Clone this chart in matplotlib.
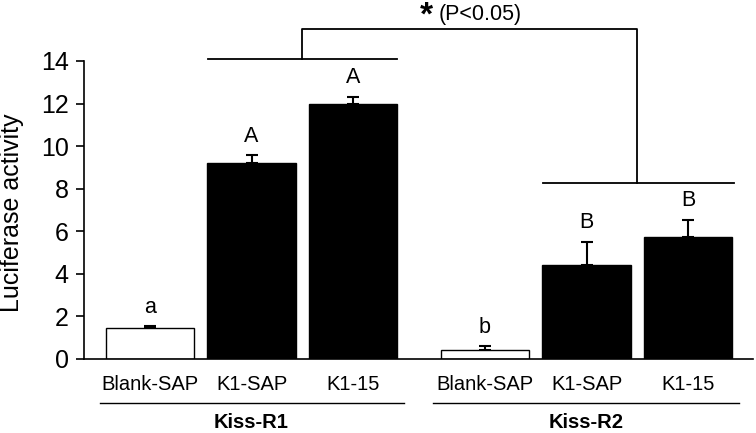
import numpy as np
import matplotlib.pyplot as plt

plt.rcParams['font.family'] = ['Liberation Sans', 'DejaVu Sans']

# data
treatments = ['Blank-SAP', 'K1-SAP', 'K1-15', 'Blank-SAP', 'K1-SAP', 'K1-15']
receptors = ['Kiss-R1', 'Kiss-R2']
activity = [1.45, 9.2, 12.0, 0.42, 4.4, 5.73]
sem = [0.08, 0.38, 0.33, 0.18, 1.1, 0.8]
letters = ['a', 'A', 'A', 'b', 'B', 'B']
bar_colors = ['white', 'black', 'black', 'white', 'black', 'black']

pos = np.array([0, 1, 2, 3.3, 4.3, 5.3])

fig = plt.figure(figsize=(7.56, 4.33), dpi=100)
ax = fig.add_axes([84 / 756, 74 / 433, (753 - 84) / 756, (359 - 61) / 433])

ax.errorbar(pos, activity, yerr=[np.zeros(6), sem], fmt='none', ecolor='black',
            elinewidth=1.5, capsize=4, capthick=1.5, zorder=1)
ax.bar(pos, activity, width=0.87, color=bar_colors, edgecolor='black', linewidth=1, zorder=2)

for x, v, e, t in zip(pos, activity, sem, letters):
    ax.text(x, v + e + 0.4, t, ha='center', va='bottom', fontsize=15.5)

ax.set_xlim(-0.65, 5.94)
ax.set_ylim(0, 14)
ax.set_yticks(range(0, 15, 2))
ax.tick_params(axis='y', labelsize=18, length=6, width=1.2, direction='out', pad=5)
ax.set_xticks([])
ax.spines['top'].set_visible(False)
ax.spines['right'].set_visible(False)
ax.spines['left'].set_linewidth(1.2)
ax.spines['bottom'].set_linewidth(1.2)
ax.set_ylabel('Luciferase activity', fontsize=18)
ax.yaxis.set_label_coords(-0.09, 0.49)

# category labels and group underlines
for x, t in zip(pos, treatments):
    ax.text(x, -1.22, t, ha='center', va='center', fontsize=14.5, clip_on=False)
ax.plot([-0.49, 2.5], [-2.07, -2.07], color='black', lw=1, clip_on=False)
ax.plot([2.79, 5.8], [-2.07, -2.07], color='black', lw=1, clip_on=False)
ax.text(1, -2.96, receptors[0], ha='center', va='center', fontsize=14.5, fontweight='bold')
ax.text(4.3, -2.96, receptors[1], ha='center', va='center', fontsize=14.5, fontweight='bold')

# significance bracket
ax.plot([0.57, 2.43], [14.08, 14.08], color='black', lw=1.3, clip_on=False)
ax.plot([3.87, 5.75], [8.26, 8.26], color='black', lw=1.3, clip_on=False)
ax.plot([1.5, 1.5, 4.8, 4.8], [14.08, 15.49, 15.49, 8.26], color='black', lw=1.3, clip_on=False)
ax.text(2.72, 16.1, '*', ha='center', va='center', fontsize=24, fontweight='bold')
ax.text(2.84, 16.2, '(P<0.05)', ha='left', va='center', fontsize=15.5)

fig.savefig('out.png', dpi=100)
